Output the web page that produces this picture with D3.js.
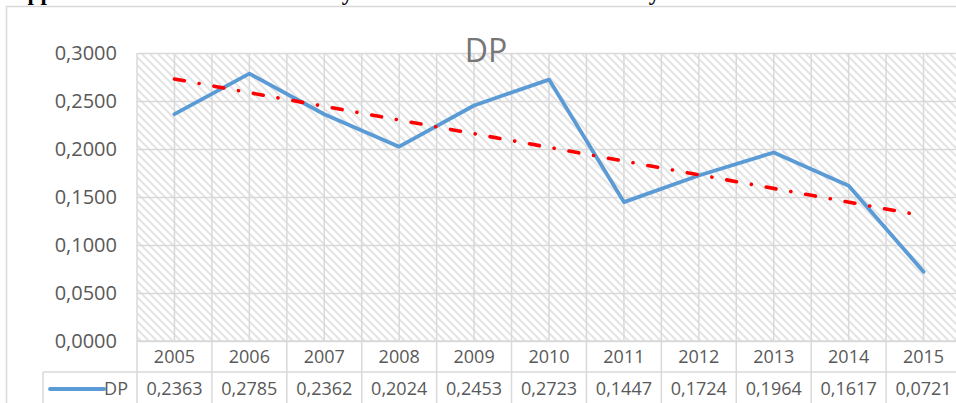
<!DOCTYPE html>
<html>
<head>
<meta charset="utf-8">
<script src="https://cdn.jsdelivr.net/npm/d3@7"></script>
<style>
  html, body { margin: 0; padding: 0; background: #fff; }
  svg { display: block; }
</style>
</head>
<body>
<svg id="chart" width="956" height="403"></svg>
<script>
(function () {
  'use strict';

  var years = ['2005', '2006', '2007', '2008', '2009', '2010', '2011', '2012', '2013', '2014', '2015'];
  var dpValues = [0.2363, 0.2785, 0.2362, 0.2024, 0.2453, 0.2723, 0.1447, 0.1724, 0.1964, 0.1617, 0.0721];
  var yTicks = [0, 0.05, 0.10, 0.15, 0.20, 0.25, 0.30];
  var seriesName = 'DP';

  var W = 956, H = 403;
  var plotLeft = 137, plotRight = 961, plotTop = 53, plotBottom = 341;
  var row1Bottom = 372, tableLeft = 43;
  var GRID = '#d9d9d9';
  var TEXT = '#595959';
  var FONT = '"Open Sans", "Noto Sans", sans-serif';

  var locale = d3.formatLocale({ decimal: ',', thousands: '.', grouping: [3], currency: ['', ''] });
  var fmt = locale.format('.4f');

  var x = d3.scaleBand().domain(years).range([plotLeft, plotRight]).padding(0);
  var y = d3.scaleLinear().domain([0, 0.3]).range([plotBottom, plotTop]);
  function cx(d) { return x(d) + x.bandwidth() / 2; }

  var svg = d3.select('#chart');

  // heading of the surrounding document, cut off by the top edge
  var head = svg.append('g')
    .attr('font-family', '"Liberation Serif", "DejaVu Serif", serif')
    .attr('font-weight', 'bold')
    .attr('font-size', 23)
    .attr('fill', '#000');
  head.append('text').attr('x', 11).attr('y', 0).text('Appendix');
  head.append('text').attr('x', 329).attr('y', 0).text('by');
  head.append('text').attr('x', 636).attr('y', 0).text('by');

  // chart frame
  svg.append('path')
    .attr('d', 'M6.5,' + H + 'V6.5H' + W)
    .attr('fill', 'none')
    .attr('stroke', GRID)
    .attr('stroke-width', 1.5);

  // hatch fill
  var defs = svg.append('defs');
  var pat = defs.append('pattern')
    .attr('id', 'hatch')
    .attr('patternUnits', 'userSpaceOnUse')
    .attr('width', 8).attr('height', 8);
  pat.append('rect').attr('width', 8).attr('height', 8).attr('fill', '#fff');
  pat.append('path')
    .attr('d', 'M-2,-2L10,10M-2,6L2,10M6,-2L10,2')
    .attr('stroke', '#e4e4e4')
    .attr('stroke-width', 2);

  svg.append('rect')
    .attr('x', plotLeft).attr('y', plotTop)
    .attr('width', plotRight - plotLeft).attr('height', plotBottom - plotTop)
    .attr('fill', 'url(#hatch)');

  // horizontal gridlines
  svg.append('g')
    .attr('transform', 'translate(' + plotLeft + ',0)')
    .call(d3.axisLeft(y).tickValues(yTicks).tickSize(-(plotRight - plotLeft)).tickFormat(''))
    .call(function (g) { g.select('.domain').remove(); })
    .selectAll('line').attr('stroke', GRID).attr('stroke-width', 1.5);

  // vertical gridlines at category centres
  svg.append('g').selectAll('line')
    .data(years)
    .join('line')
    .attr('x1', cx).attr('x2', cx)
    .attr('y1', plotTop).attr('y2', plotBottom)
    .attr('stroke', GRID).attr('stroke-width', 1.5);

  // category boundaries, running through the data table
  svg.append('g').selectAll('line')
    .data(years)
    .join('line')
    .attr('x1', function (d) { return x(d); })
    .attr('x2', function (d) { return x(d); })
    .attr('y1', plotTop).attr('y2', H)
    .attr('stroke', GRID).attr('stroke-width', 1.5);

  // table rules
  svg.append('line')
    .attr('x1', plotLeft).attr('x2', W)
    .attr('y1', plotBottom).attr('y2', plotBottom)
    .attr('stroke', GRID).attr('stroke-width', 1.5);
  svg.append('line')
    .attr('x1', tableLeft).attr('x2', W)
    .attr('y1', row1Bottom).attr('y2', row1Bottom)
    .attr('stroke', GRID).attr('stroke-width', 1.5);
  svg.append('line')
    .attr('x1', tableLeft).attr('x2', tableLeft)
    .attr('y1', row1Bottom).attr('y2', H)
    .attr('stroke', GRID).attr('stroke-width', 1.5);

  // y-axis labels
  svg.append('g').selectAll('text')
    .data(yTicks)
    .join('text')
    .attr('x', 117)
    .attr('y', function (d) { return y(d); })
    .attr('dy', '0.36em')
    .attr('text-anchor', 'end')
    .attr('font-family', FONT)
    .attr('font-size', 20)
    .attr('fill', TEXT)
    .text(function (d) { return fmt(d); });

  // title
  svg.append('text')
    .attr('x', 486).attr('y', 62)
    .attr('text-anchor', 'middle')
    .attr('font-family', FONT)
    .attr('font-size', 32)
    .attr('fill', '#767676')
    .text(seriesName);

  // linear trendline (least squares over the series)
  var xs = dpValues.map(function (v, i) { return i + 1; });
  var mx = d3.mean(xs), my = d3.mean(dpValues);
  var sxy = d3.sum(xs, function (xi, i) { return (xi - mx) * (dpValues[i] - my); });
  var sxx = d3.sum(xs, function (xi) { return (xi - mx) * (xi - mx); });
  var slope = sxy / sxx, icpt = my - slope * mx;
  var trend = [years[0], years[years.length - 1]].map(function (yr) {
    var i = years.indexOf(yr) + 1;
    return { year: yr, v: icpt + slope * i };
  });

  var lineGen = d3.line()
    .x(function (d) { return cx(d.year); })
    .y(function (d) { return y(d.v); });

  var series = years.map(function (yr, i) { return { year: yr, v: dpValues[i] }; });

  svg.append('path')
    .datum(series)
    .attr('d', lineGen)
    .attr('fill', 'none')
    .attr('stroke', '#5b9bd5')
    .attr('stroke-width', 3.8)
    .attr('stroke-linejoin', 'round')
    .attr('stroke-linecap', 'round');

  svg.append('path')
    .datum(trend)
    .attr('d', lineGen)
    .attr('fill', 'none')
    .attr('stroke', '#ff0000')
    .attr('stroke-width', 3.6)
    .attr('stroke-linecap', 'round')
    .attr('stroke-dasharray', '10,15,0.1,15');

  // data table: years row
  svg.append('g').selectAll('text')
    .data(years)
    .join('text')
    .attr('x', cx)
    .attr('y', 363)
    .attr('text-anchor', 'middle')
    .attr('font-family', FONT)
    .attr('font-size', 18)
    .attr('fill', TEXT)
    .text(function (d) { return d; });

  // data table: values row
  svg.append('g').selectAll('text')
    .data(series)
    .join('text')
    .attr('x', function (d) { return cx(d.year); })
    .attr('y', 395)
    .attr('text-anchor', 'middle')
    .attr('font-family', FONT)
    .attr('font-size', 18)
    .attr('fill', TEXT)
    .text(function (d) { return fmt(d.v); });

  // legend key in the table
  svg.append('line')
    .attr('x1', 50).attr('x2', 104)
    .attr('y1', 389).attr('y2', 389)
    .attr('stroke', '#5b9bd5')
    .attr('stroke-width', 3.8)
    .attr('stroke-linecap', 'round');
  svg.append('text')
    .attr('x', 128).attr('y', 395)
    .attr('text-anchor', 'end')
    .attr('font-family', FONT)
    .attr('font-size', 18)
    .attr('fill', TEXT)
    .text(seriesName);
})();
</script>
</body>
</html>
